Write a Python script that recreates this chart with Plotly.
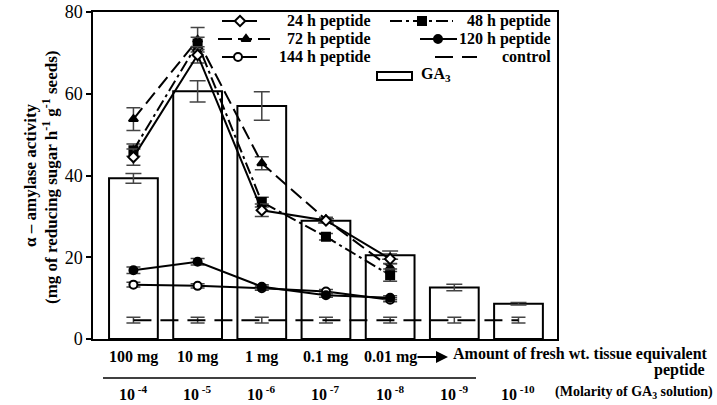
import plotly.graph_objects as go

# ---------------- data ----------------
categories = ["100 mg", "10 mg", "1 mg", "0.1 mg", "0.01 mg", "", ""]
molarity_labels = ["10<sup> -4</sup>", "10<sup> -5</sup>", "10<sup> -6</sup>", "10<sup> -7</sup>",
                   "10<sup> -8</sup>", "10<sup> -9</sup>", "10<sup> -10</sup>"]
x_all = [0, 1, 2, 3, 4, 5, 6]
x_pep = [0, 1, 2, 3, 4]

ga3 = [39.3, 60.6, 57.0, 28.9, 20.5, 12.6, 8.6]
ga3_err = [1.2, 2.6, 3.5, 0.5, 1.0, 0.8, 0.3]

h24 = [44.5, 69.5, 31.5, 29.0, 19.6]
h24_err = [2.0, 2.0, 1.5, 0.5, 1.2]
h48 = [46.2, 72.3, 33.5, 25.0, 15.6]
h48_err = [1.5, 1.5, 1.2, 0.8, 1.5]
h72 = [53.8, 73.2, 43.0, 29.2, 17.5]
h72_err = [2.8, 3.0, 1.6, 0.6, 1.0]
h120 = [16.8, 18.9, 12.8, 10.7, 10.1]
h120_err = [0.8, 0.8, 0.5, 0.5, 0.5]
h144 = [13.3, 13.0, 12.4, 11.6, 9.6]
h144_err = [0.6, 0.5, 0.5, 0.5, 0.5]
control = [4.6, 4.6, 4.6, 4.6, 4.6, 4.6, 4.6]
control_err = [0.7, 0.7, 0.7, 0.7, 0.7, 0.7, 0.7]

y_ticks = [0, 20, 40, 60, 80]

FONT = "Liberation Serif, Times New Roman, DejaVu Serif, serif"
FS = 16
W, H = 717, 405
L, R, T, B = 93, 557, 12, 339


def px(x):
    return (x - L) / (R - L)


def py(y):
    return (B - y) / (B - T)


fig = go.Figure()

# bars
fig.add_trace(go.Bar(
    x=x_all, y=ga3, width=0.76,
    marker=dict(color="white", line=dict(color="black", width=2)),
    error_y=dict(type="data", array=ga3_err, color="#444", thickness=1.5, width=8),
    showlegend=False, name="GA3"))

def line_trace(y, err, dash, symbol, fill, name, xs=x_pep, mode="lines+markers"):
    return go.Scatter(
        x=xs, y=y, mode=mode, name=name, showlegend=False,
        line=dict(color="black", width=2, dash=dash),
        marker=dict(symbol=symbol, size=8, color=fill, line=dict(color="black", width=2)),
        error_y=dict(type="data", array=err, color="#444", thickness=1.5, width=7))

fig.add_trace(line_trace(control, control_err, "18px,9px", "circle", "black", "control",
                         xs=x_all, mode="lines"))
fig.add_trace(line_trace(h144, h144_err, "solid", "circle", "white", "144 h peptide"))
fig.add_trace(line_trace(h120, h120_err, "solid", "circle", "black", "120 h peptide"))
fig.add_trace(line_trace(h72, h72_err, "14px,6px", "triangle-up", "black", "72 h peptide"))
fig.add_trace(line_trace(h48, h48_err, "12px,4px,3px,4px", "square", "black", "48 h peptide"))
fig.add_trace(line_trace(h24, h24_err, "solid", "diamond", "white", "24 h peptide"))

# ---------------- legend (drawn on overlay axes in paper-like units) ----------------
leg_rows = [
    ("24 h peptide", "solid", "diamond", "white", 222, 257, 240, 21, "col1"),
    ("72 h peptide", "14px,6px", "triangle-up", "black", 218, 270, 246, 39, "col1"),
    ("144 h peptide", "solid", "circle", "white", 222, 257, 238, 57, "col1"),
    ("48 h peptide", "12px,4px,3px,4px", "square", "black", 390, 453, 422, 21, "col2"),
    ("120 h peptide", "solid", "circle", "black", 420, 457, 438, 39, "col2"),
    ("control", "18px,9px", None, None, 435, 477, None, 57, "col2"),
]
for name, dash, sym, fill, x0, x1, xm, yy, col in leg_rows:
    fig.add_trace(go.Scatter(
        x=[px(x0), px(x1)], y=[py(yy), py(yy)], mode="lines", xaxis="x2", yaxis="y2",
        line=dict(color="black", width=2, dash=dash), showlegend=False, hoverinfo="skip"))
    if sym:
        fig.add_trace(go.Scatter(
            x=[px(xm)], y=[py(yy)], mode="markers", xaxis="x2", yaxis="y2",
            marker=dict(symbol=sym, size=8, color=fill, line=dict(color="black", width=2)),
            showlegend=False, hoverinfo="skip"))
    xr = 373 if col == "col1" else 553
    fig.add_annotation(x=px(xr), y=py(yy), xref="paper", yref="paper", text="<b>%s</b>" % name,
                       showarrow=False, xanchor="right", yanchor="middle",
                       font=dict(family=FONT, size=FS, color="black"))

shapes = []
shapes.append(dict(type="rect", xref="paper", yref="paper", x0=px(377), x1=px(412),
                   y0=py(80), y1=py(72), line=dict(color="black", width=2), fillcolor="white"))
fig.add_annotation(x=px(419), y=py(75), xref="paper", yref="paper", text="<b>GA<sub>3</sub></b>",
                   showarrow=False, xanchor="left", yanchor="middle",
                   font=dict(family=FONT, size=FS, color="black"))

# ---------------- x-axis label rows ----------------
for xi, lab in zip(x_all, categories):
    if lab:
        fig.add_annotation(x=xi, y=py(357), xref="x", yref="paper", text="<b>%s</b>" % lab,
                           showarrow=False, xanchor="center", yanchor="middle",
                           font=dict(family=FONT, size=FS, color="black"))
for xi, lab in zip(x_all, molarity_labels):
    fig.add_annotation(x=xi, y=py(393), xref="x", yref="paper", text="<b>%s</b>" % lab,
                       showarrow=False, xanchor="center", yanchor="middle",
                       font=dict(family=FONT, size=FS, color="black"))

# arrow
fig.add_annotation(x=px(448), y=py(357), ax=-32, ay=0, xref="paper", yref="paper",
                   axref="pixel", ayref="pixel", text="", showarrow=True, arrowhead=2,
                   arrowsize=1.2, arrowwidth=2, arrowcolor="black")
fig.add_annotation(x=px(451), y=py(354), xref="paper", yref="paper",
                   text="<b>Amount of fresh wt. tissue equivalent</b>", showarrow=False,
                   xanchor="left", yanchor="middle", font=dict(family=FONT, size=FS, color="black"))
fig.add_annotation(x=px(707), y=py(370), xref="paper", yref="paper", text="<b>peptide</b>",
                   showarrow=False, xanchor="right", yanchor="middle",
                   font=dict(family=FONT, size=FS, color="black"))
fig.add_annotation(x=px(553), y=py(393), xref="paper", yref="paper",
                   text="<b>(Molarity of GA<sub>3</sub> solution)</b>", showarrow=False,
                   xanchor="left", yanchor="middle", font=dict(family=FONT, size=14, color="black"))
shapes.append(dict(type="line", xref="paper", yref="paper", x0=px(103), x1=px(476),
                   y0=py(378), y1=py(378), line=dict(color="black", width=1.5)))

# y-axis title
fig.add_annotation(x=px(30), y=py(175), xref="paper", yref="paper",
                   text="<b>α – amylase activity</b>", textangle=-90, showarrow=False,
                   xanchor="center", yanchor="middle", font=dict(family=FONT, size=FS + 1, color="black"))
fig.add_annotation(x=px(50), y=py(178), xref="paper", yref="paper",
                   text="<b>(mg of reducing sugar h<sup>-1</sup> g<sup>-1</sup> seeds)</b>", textangle=-90,
                   showarrow=False, xanchor="center", yanchor="middle",
                   font=dict(family=FONT, size=FS + 1, color="black"))

fig.update_layout(
    width=W, height=H,
    margin=dict(l=L, r=W - R, t=T, b=H - B, autoexpand=False),
    paper_bgcolor="white", plot_bgcolor="white",
    showlegend=False, shapes=shapes,
    xaxis=dict(range=[-0.63, 6.6], showticklabels=False, ticks="", showgrid=False,
               zeroline=False, showline=True, linecolor="black", linewidth=1.5, mirror=True),
    yaxis=dict(range=[0, 80], tickvals=y_ticks, ticks="outside", ticklen=5, tickwidth=1.5,
               tickcolor="black", showgrid=False, zeroline=False, showline=True,
               linecolor="black", linewidth=1.5, mirror=True,
               tickfont=dict(family=FONT, size=18, color="black")),
    xaxis2=dict(overlaying="x", range=[0, 1], visible=False, anchor="y2"),
    yaxis2=dict(overlaying="y", range=[0, 1], visible=False, anchor="x2"),
    font=dict(family=FONT, color="black"),
)

fig.write_html("out.html", config={"displayModeBar": False},
               post_script="document.body.style.margin='0px';")
